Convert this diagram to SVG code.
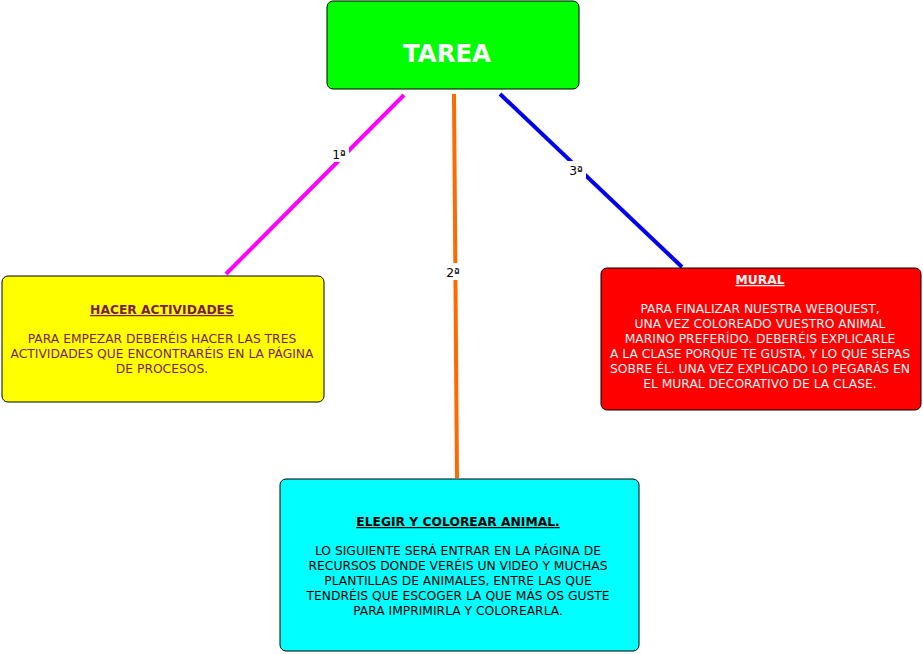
<svg xmlns="http://www.w3.org/2000/svg" width="923" height="654" viewBox="0 0 923 654">
<style>
.node rect{stroke:#000;stroke-width:1}
.t{font-family:"DejaVu Sans",Verdana,sans-serif;font-size:12.3px;text-anchor:middle}
.h{font-weight:bold;text-decoration:underline}
.lbl{font-family:"DejaVu Sans",Verdana,sans-serif;font-size:12.3px;text-anchor:middle;fill:#000}
.lblbg{fill:#fff}
.c{fill:none;stroke-width:4}
</style>
<rect width="923" height="654" fill="#fff"/>
<g id="connectors">
<line class="c" x1="404" y1="95" x2="226" y2="274" stroke="#ff00ff"/>
<line class="c" x1="454" y1="94" x2="457" y2="478" stroke="#ff6a00"/>
<line class="c" x1="500" y1="94" x2="682" y2="267" stroke="#0000ee"/>
<rect class="lblbg" x="329" y="145" width="20" height="17"/>
<text class="lbl" x="339" y="159">1ª</text>
<rect class="lblbg" x="443" y="263" width="20" height="17"/>
<text class="lbl" x="453" y="277">2ª</text>
<rect class="lblbg" x="566" y="161" width="20" height="17"/>
<text class="lbl" x="576" y="175">3ª</text>
</g>
<g id="tarea" class="node">
<rect x="327" y="1" width="252" height="88" rx="6" fill="#00ff00"/>
<text x="447" y="62" font-family="DejaVu Sans,Verdana,sans-serif" font-size="24.4" font-weight="bold" fill="#fff" text-anchor="middle">TAREA</text>
</g>
<g id="hacer" class="node">
<rect x="2" y="276" width="322" height="126" rx="6" fill="#ffff00"/>
<g class="t" fill="#7a1f4a">
<text class="h" x="162" y="314">HACER ACTIVIDADES</text>
<text x="162" y="343">PARA EMPEZAR DEBERÉIS HACER LAS TRES</text>
<text x="162" y="358">ACTIVIDADES QUE ENCONTRARÉIS EN LA PÁGINA</text>
<text x="162" y="373">DE PROCESOS.</text>
</g>
</g>
<g id="mural" class="node">
<rect x="601" y="268" width="320" height="142" rx="6" fill="#ff0000"/>
<g class="t" fill="#f4f4f4">
<text class="h" x="760" y="284">MURAL</text>
<text x="760" y="313">PARA FINALIZAR NUESTRA WEBQUEST,</text>
<text x="760" y="328">UNA VEZ COLOREADO VUESTRO ANIMAL</text>
<text x="760" y="343">MARINO PREFERÍDO. DEBERÉIS EXPLICARLE</text>
<text x="760" y="358">A LA CLASE PORQUE TE GUSTA, Y LO QUE SEPAS</text>
<text x="760" y="373">SOBRE ÉL. UNA VEZ EXPLICADO LO PEGARÁS EN</text>
<text x="760" y="388">EL MURAL DECORATIVO DE LA CLASE.</text>
</g>
</g>
<g id="elegir" class="node">
<rect x="280" y="479" width="359" height="172" rx="6" fill="#00ffff"/>
<g class="t" fill="#000">
<text class="h" x="458" y="526">ELEGIR Y COLOREAR ANIMAL.</text>
<text x="458" y="555">LO SIGUIENTE SERÁ ENTRAR EN LA PÁGINA DE</text>
<text x="458" y="570">RECURSOS DONDE VERÉIS UN VIDEO Y MUCHAS</text>
<text x="458" y="585">PLANTILLAS DE ANIMALES, ENTRE LAS QUE</text>
<text x="458" y="600">TENDRÉIS QUE ESCOGER LA QUE MÁS OS GUSTE</text>
<text x="458" y="615">PARA IMPRIMIRLA Y COLOREARLA.</text>
</g>
</g>
</svg>
